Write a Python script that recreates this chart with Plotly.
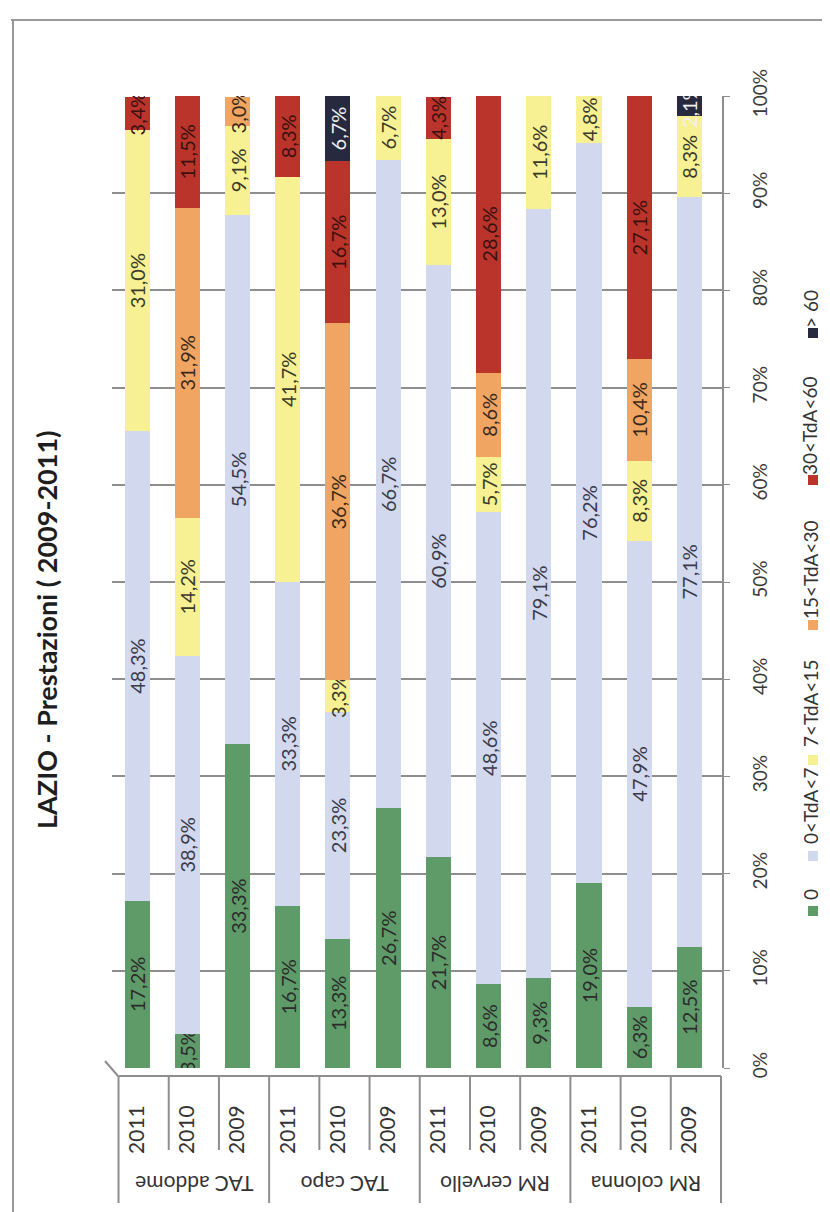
import plotly.graph_objects as go

# ---------------- data ----------------
groups = ["TAC addome", "TAC capo", "RM cervello", "RM colonna"]
years = ["2011", "2010", "2009"]
series_names = ["0", "0<TdA<7", "7<TdA<15", "15<TdA<30", "30<TdA<60", "> 60"]

s_0 = [17.2, 3.5, 33.3, 16.7, 13.3, 26.7, 21.7, 8.6, 9.3, 19.0, 6.3, 12.5]
s_0_7 = [48.3, 38.9, 54.5, 33.3, 23.3, 66.7, 60.9, 48.6, 79.1, 76.2, 47.9, 77.1]
s_7_15 = [31.0, 14.2, 9.1, 41.7, 3.3, 6.7, 13.0, 5.7, 11.6, 4.8, 8.3, 8.3]
s_15_30 = [0, 31.9, 3.0, 0, 36.7, 0, 0, 8.6, 0, 0, 10.4, 0]
s_30_60 = [3.4, 11.5, 0, 8.3, 16.7, 0, 4.3, 28.6, 0, 0, 27.1, 0]
s_60 = [0, 0, 0, 0, 6.7, 0, 0, 0, 0, 0, 0, 2.1]

y_ticks = [0, 10, 20, 30, 40, 50, 60, 70, 80, 90, 100]
y_tick_labels = [f"{v}%" for v in y_ticks]

title_text = "LAZIO - Prestazioni ( 2009-2011)"

# ---------------- styles ----------------
colors = ["#5f9b69", "#d2d8ee", "#f7f194", "#f0a563", "#bb342b", "#272a3e"]
text_colors = ["#2b2b2b", "#3a3a4a", "#3a3a2a", "#3a2a1a", "#3a1010", "#f0f0f0"]
FONT = "Lato"

W, H = 830, 1212
L, R, T, B = 104, 116, 88, 152
PW, PH = W - L - R, H - T - B


def px_x(p):
    return (p - L) / PW


def px_y(p):
    return (H - B - p) / PH


def esc(s):
    return s.replace("<", "&lt;").replace(">", "&gt;")


keys = [f"{g} {y}" for g in groups for y in years]
year_labels = [y for g in groups for y in years]


def fmt(v):
    return ("%.1f%%" % v).replace(".", ",")


fig = go.Figure()
all_series = [s_0, s_0_7, s_7_15, s_15_30, s_30_60, s_60]
for name, vals, col, tc in zip(series_names, all_series, colors, text_colors):
    fig.add_trace(go.Bar(
        x=keys,
        y=[v if v > 0 else None for v in vals],
        name=esc(name),
        marker=dict(color=col, line=dict(width=0)),
        text=[fmt(v) if v > 0 else "" for v in vals],
        textposition="inside",
        insidetextanchor="middle",
        textangle=-90,
        constraintext="none",
        textfont=dict(family=FONT, size=20, color=tc),
        width=0.5,
        hoverinfo="skip",
    ))

fig.update_layout(
    width=W, height=H,
    margin=dict(l=L, r=R, t=T, b=B),
    barmode="stack",
    bargap=0.5,
    showlegend=False,
    plot_bgcolor="white",
    paper_bgcolor="white",
    font=dict(family=FONT, color="#333333"),
)

fig.update_yaxes(
    range=[0, 100],
    tickvals=y_ticks,
    ticktext=y_tick_labels,
    side="right",
    tickangle=-90,
    tickfont=dict(family=FONT, size=19, color="#3a3a3a"),
    showgrid=True,
    gridcolor="#8e8e8e",
    gridwidth=2,
    zeroline=False,
    showline=True,
    linecolor="#8e8e8e",
    linewidth=2,
    ticks="outside",
    ticklen=6,
    tickcolor="#8e8e8e",
    ticklabelstandoff=14,
)

fig.update_xaxes(
    type="category",
    tickvals=keys,
    ticktext=year_labels,
    tickangle=-90,
    tickfont=dict(family=FONT, size=21, color="#333333"),
    ticks="",
    showline=False,
    showgrid=False,
    ticklabelstandoff=32,
)

# group labels (upside-down, as in the scanned page)
annotations = []
for gi, g in enumerate(groups):
    annotations.append(dict(
        x=keys[gi * 3 + 1], xref="x", y=px_y(1177), yref="paper",
        xanchor="center", yanchor="middle",
        text=g, textangle=180, showarrow=False,
        font=dict(family=FONT, size=21, color="#333333"),
        xshift=7,
    ))

# title
annotations.append(dict(
    x=px_x(38), xref="paper", y=px_y(622), yref="paper",
    xanchor="center", yanchor="middle",
    text=f"<b>{title_text}</b>", textangle=-90, showarrow=False,
    font=dict(family=FONT, size=27, color="#1e1e1e"),
))

# legend (rotated, built from annotations + small squares)
legend_pos = [(903, 887), (848, 798), (752, 695), (617, 562), (472, 418), (325, 301)]
shapes = []
for name, col, (my, ty) in zip(series_names, colors, legend_pos):
    annotations.append(dict(
        x=px_x(802), xref="paper", y=px_y(ty), yref="paper",
        xanchor="center", yanchor="middle",
        text=esc(name), textangle=-90, showarrow=False,
        font=dict(family=FONT, size=19, color="#333333"),
    ))
    shapes.append(dict(
        type="rect", xref="paper", yref="paper",
        x0=px_x(800), x1=px_x(810), y0=px_y(my - 5), y1=px_y(my + 5),
        fillcolor=col, line=dict(width=0),
    ))

# category table lines
off = 0.13
line_col = "#8e8e8e"
for i in range(len(keys) + 1):
    b = i - 0.5 + off
    bottom = 1195 if i % 3 == 0 else 1142
    shapes.append(dict(
        type="line", xref="x", yref="paper",
        x0=b, x1=b, y0=px_y(1068), y1=px_y(bottom),
        line=dict(color=line_col, width=2),
    ))
shapes.append(dict(
    type="line", xref="x", yref="paper",
    x0=-0.5 + off, x1=len(keys) - 0.5 + off, y0=px_y(1068), y1=px_y(1068),
    line=dict(color=line_col, width=2),
))
shapes.append(dict(
    type="line", xref="paper", yref="paper",
    x0=px_x(97), x1=px_x(110), y0=px_y(1053), y1=px_y(1068),
    line=dict(color=line_col, width=2),
))

# page frame of the scan
shapes.append(dict(type="line", xref="paper", yref="paper",
                   x0=px_x(3), x1=px_x(830), y0=px_y(12), y1=px_y(12),
                   line=dict(color="#999999", width=2)))
shapes.append(dict(type="line", xref="paper", yref="paper",
                   x0=px_x(5), x1=px_x(5), y0=px_y(12), y1=px_y(1212),
                   line=dict(color="#999999", width=2)))

fig.update_layout(annotations=annotations, shapes=shapes)

fig.write_html("out.html")
